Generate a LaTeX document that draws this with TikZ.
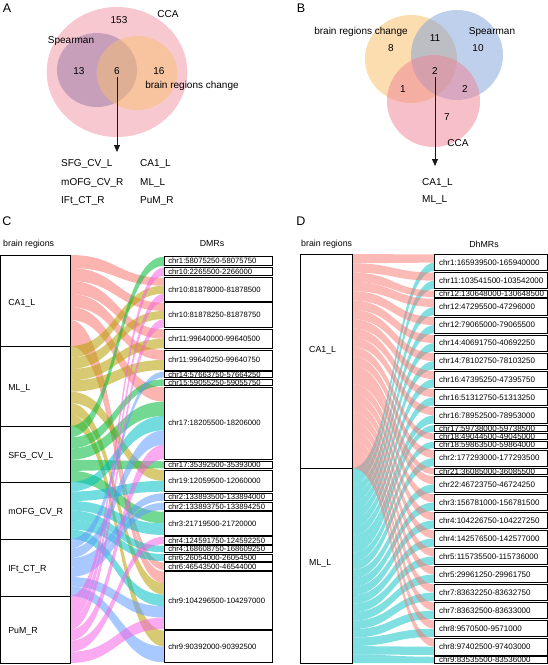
\documentclass[tikz,border=0pt]{standalone}
\usepackage{fontspec}
\setmainfont{Liberation Sans}
\usetikzlibrary{shapes.geometric,fit,arrows.meta}
\definecolor{fpink}{HTML}{F8766D}
\definecolor{folive}{HTML}{B79F00}
\definecolor{fgreen}{HTML}{00BA38}
\definecolor{fcyan}{HTML}{00BFC4}
\definecolor{fblue}{HTML}{619CFF}
\definecolor{fmag}{HTML}{F564E3}
\definecolor{vAcca}{RGB}{241,145,161}
\definecolor{vAsp}{RGB}{152,120,168}
\definecolor{vAbr}{RGB}{248,192,112}
\definecolor{vBor}{RGB}{247,187,97}
\definecolor{vBbl}{RGB}{127,161,217}
\definecolor{vBpk}{RGB}{240,130,148}
\newcommand\ribbon[7]{\fill[#1] (#2,#3) .. controls ({(#2+#5)/2},#3) and ({(#2+#5)/2},#6) .. (#5,#6) -- (#5,#7) .. controls ({(#2+#5)/2},#7) and ({(#2+#5)/2},#4) .. (#2,#4) -- cycle;}
\newcommand\cflow[5]{\ribbon{#1}{70}{#2}{#3}{164}{#4}{#5}}
\newcommand\crbox[4]{\node[boxline, fit={(164,#2) (272,#3)}] (#1) {};\node[crt] at ([xshift=4.5pt]#1.west) {#4};}
\newcommand\drbox[4]{\node[boxline, fit={(434.7,#2) (547,#3)}] (#1) {};\node[drt] at ([xshift=4.5pt]#1.west) {#4};}
\begin{document}
\begin{tikzpicture}[x=1pt,y=-1pt,
  vt/.style={font=\fontsize{10}{12}\selectfont, inner sep=0},
  plet/.style={font=\fontsize{12.5}{14}\selectfont, inner sep=0},
  hd/.style={font=\fontsize{8.8}{10}\selectfont, inner sep=0},
  ll/.style={font=\fontsize{8.8}{10}\selectfont, inner sep=0, anchor=west},
  crt/.style={font=\fontsize{7.7}{9}\selectfont, inner sep=0, anchor=west},
  drt/.style={font=\fontsize{8}{9}\selectfont, inner sep=0, anchor=west},
  boxline/.style={draw=black, line width=0.8pt, inner sep=0, rectangle},
  ven/.style={ellipse, inner sep=0, fill opacity=0.5},
  arr/.style={-{Triangle[length=7pt,width=6pt]}, line width=0.8pt, draw=black!90},
  rpink/.style={fill=fpink, fill opacity=0.55},
  rolive/.style={fill=folive, fill opacity=0.55},
  rgreen/.style={fill=fgreen, fill opacity=0.55},
  rcyan/.style={fill=fcyan, fill opacity=0.55},
  rblue/.style={fill=fblue, fill opacity=0.55},
  rmag/.style={fill=fmag, fill opacity=0.55},
  dpink/.style={fill=fpink, fill opacity=0.5},
  dcyan/.style={fill=fcyan, fill opacity=0.5}]
\useasboundingbox (0,0) rectangle (548,665);

% ---------------- Panel A ----------------
\node[plet] (la) at (7,8) {A};
\node[ven, fill=vAcca, minimum width=140.6pt, minimum height=130pt] (cca) at (117,72) {};
\node[ven, fill=vAsp, minimum width=80pt, minimum height=74pt] (sp) at (97,70) {};
\node[ven, fill=vAbr, minimum width=80.6pt, minimum height=74pt] (br) at (137,73) {};
\node[vt] (a153) at (119,20) {153};
\node[vt] (acca) at (168,14) {CCA};
\node[vt] (asp) at (71,41) {Spearman};
\node[vt] (a13) at (79,71) {13};
\node[vt] (a6) at (117,71) {6};
\node[vt] (a16) at (159,71) {16};
\node[vt] (abr) at (192,86) {brain regions change};
\coordinate (arrA) at (117,152);
\draw[arr] ([yshift=-2pt]a6.south) -- (arrA);
\node[vt, anchor=west] (a1) at (61,164) {SFG\_CV\_L};
\node[vt, anchor=west] (a2) at (61,183) {mOFG\_CV\_R};
\node[vt, anchor=west] (a3) at (61,201) {IFt\_CT\_R};
\node[vt, anchor=west] (a4) at (140,164) {CA1\_L};
\node[vt, anchor=west] (a5) at (140,183) {ML\_L};
\node[vt, anchor=west] (a7) at (140,201) {PuM\_R};

% ---------------- Panel B ----------------
\node[plet] (lb) at (301,8) {B};
\node[ven, fill=vBor, minimum width=92pt, minimum height=88pt] (bor) at (411,59) {};
\node[ven, fill=vBbl, minimum width=92pt, minimum height=90pt] (bbl) at (457,55) {};
\node[ven, fill=vBpk, minimum width=93pt, minimum height=92pt] (bpk) at (433.5,101) {};
\node[vt] (bbr) at (361,32) {brain regions change};
\node[vt] (bsp) at (492,32) {Spearman};
\node[vt] (b11) at (435,38) {11};
\node[vt] (b8) at (391,48) {8};
\node[vt] (b10) at (478,48) {10};
\node[vt] (b2) at (435,71) {2};
\node[vt] (b1) at (403,89) {1};
\node[vt] (b2b) at (465,89) {2};
\node[vt] (b7) at (447,117) {7};
\node[vt] (bcca) at (458,143) {CCA};
\coordinate (arrB) at (435,166);
\draw[arr] ([yshift=-2pt]b2.south) -- (arrB);
\node[vt, anchor=west] (bl1) at (422,183) {CA1\_L};
\node[vt, anchor=west] (bl2) at (422,200) {ML\_L};

% ---------------- Panel C ----------------
\node[plet] (lc) at (7,221) {C};
\node[hd, anchor=west] (chl) at (3,244) {brain regions};
\node[hd] (chr) at (212,244) {DMRs};
% flows CA1_L
\cflow{rpink}{255}{268}{277.7}{285.7}
\cflow{rpink}{268}{281}{302.7}{310.9}
\cflow{rpink}{281}{294}{329.3}{338.8}
\cflow{rpink}{294}{307}{350}{360}
\cflow{rpink}{307}{320}{387.3}{401.6}
\cflow{rpink}{320}{333}{562.7}{570}
\cflow{rpink}{333}{346}{571.7}{583.16}
% ML_L
\cflow{rolive}{346}{357.4}{285.7}{293.7}
\cflow{rolive}{357.4}{368.9}{310.9}{319.1}
\cflow{rolive}{368.9}{380.3}{338.8}{348.3}
\cflow{rolive}{380.3}{391.7}{360}{370}
\cflow{rolive}{391.7}{403.1}{470}{480.85}
\cflow{rolive}{403.1}{414.6}{583.16}{594.62}
\cflow{rolive}{414.6}{426}{630.7}{646.5}
% SFG_CV_L
\cflow{rgreen}{426}{437.2}{256.7}{265.7}
\cflow{rgreen}{437.2}{448.4}{379.3}{385.7}
\cflow{rgreen}{448.4}{459.6}{401.6}{416}
\cflow{rgreen}{459.6}{470.8}{461.3}{468.3}
\cflow{rgreen}{470.8}{482}{511.7}{523.35}
% mOFG_CV_R
\cflow{rcyan}{482}{491.5}{416}{430.3}
\cflow{rcyan}{491.5}{501}{480.85}{491.7}
\cflow{rcyan}{501}{510.5}{523.35}{535}
\cflow{rcyan}{510.5}{520}{545.7}{552.3}
\cflow{rcyan}{520}{529.5}{554}{561}
\cflow{rcyan}{529.5}{539}{594.62}{606.08}
% IFt_CT_R
\cflow{rblue}{539}{548.5}{371.7}{377.3}
\cflow{rblue}{548.5}{558}{430.3}{444.7}
\cflow{rblue}{558}{567.5}{493.3}{500.7}
\cflow{rblue}{567.5}{577}{502.7}{510}
\cflow{rblue}{577}{586.5}{606.08}{617.54}
\cflow{rblue}{586.5}{596}{646.5}{662.3}
% PuM_R
\cflow{rmag}{596}{607.2}{267.3}{275.7}
\cflow{rmag}{607.2}{618.3}{293.7}{301.7}
\cflow{rmag}{618.3}{629.5}{319.1}{327.3}
\cflow{rmag}{629.5}{640.7}{444.7}{459}
\cflow{rmag}{640.7}{651.8}{536.7}{544}
\cflow{rmag}{651.8}{663}{617.54}{629}
% left boxes C
\node[boxline, fit={(0.5,255) (70,346)}] (cl1) {};
\node[boxline, fit={(0.5,346) (70,426)}] (cl2) {};
\node[boxline, fit={(0.5,426) (70,482)}] (cl3) {};
\node[boxline, fit={(0.5,482) (70,539)}] (cl4) {};
\node[boxline, fit={(0.5,539) (70,596)}] (cl5) {};
\node[boxline, fit={(0.5,596) (70,663)}] (cl6) {};
\node[ll] at ([xshift=8pt,yshift=-3pt]cl1.west) {CA1\_L};
\node[ll] at ([xshift=8pt,yshift=-2pt]cl2.west) {ML\_L};
\node[ll] at ([xshift=8pt,yshift=-2pt]cl3.west) {SFG\_CV\_L};
\node[ll] at ([xshift=8pt,yshift=-2pt]cl4.west) {mOFG\_CV\_R};
\node[ll] at ([xshift=8pt,yshift=-2pt]cl5.west) {IFt\_CT\_R};
\node[ll] at ([xshift=8pt,yshift=-2pt]cl6.west) {PuM\_R};
% right boxes C
\crbox{c1}{256.7}{265.7}{chr1:58075250-58075750}
\crbox{c2}{267.3}{275.7}{chr10:2265500-2266000}
\crbox{c3}{277.7}{301.7}{chr10:81878000-81878500}
\crbox{c4}{302.7}{327.3}{chr10:81878250-81878750}
\crbox{c5}{329.3}{348.3}{chr11:99640000-99640500}
\crbox{c6}{350}{370}{chr11:99640250-99640750}
\crbox{c7}{371.7}{377.3}{chr14:57663750-57664250}
\crbox{c8}{379.3}{385.7}{chr15:59055250-59055750}
\crbox{c9}{387.3}{459}{chr17:18205500-18206000}
\crbox{c10}{461.3}{468.3}{chr17:35392500-35393000}
\crbox{c11}{470}{491.7}{chr19:12059500-12060000}
\crbox{c12}{493.3}{500.7}{chr2:133893500-133894000}
\crbox{c13}{502.7}{510}{chr2:133893750-133894250}
\crbox{c14}{511.7}{535}{chr3:21719500-21720000}
\crbox{c15}{536.7}{544}{chr4:124591750-124592250}
\crbox{c16}{545.7}{552.3}{chr4:168608750-168609250}
\crbox{c17}{554}{561}{chr6:26054000-26054500}
\crbox{c18}{562.7}{570}{chr6:46543500-46544000}
\crbox{c19}{571.7}{629}{chr9:104296500-104297000}
\crbox{c20}{630.7}{662.3}{chr9:90392000-90392500}

% ---------------- Panel D ----------------
\node[plet] (ld) at (301,221) {D};
\node[hd, anchor=west] (dhl) at (301,244) {brain regions};
\node[hd] (dhr) at (484,244) {DhMRs};
\foreach \dT/\dB/\dP/\dC in {254.5/270.7/0/0, 272.55/288.75/1/1, 290.6/297.0/2/-1, 298.85/315.05/3/2, 316.9/333.1/4/3, 334.95/351.15/5/4, 353.0/369.2/6/5, 371.05/387.25/7/6, 389.1/405.3/8/7, 407.15/423.35/9/8, 425.2/431.6/-1/9, 433.45/439.85/10/-1, 441.7/448.1/-1/10, 449.95/466.15/11/11, 468.0/474.4/12/-1, 476.25/492.45/13/12, 494.3/510.5/14/13, 512.35/528.55/15/14, 530.4/546.6/16/15, 548.45/564.65/17/16, 566.5/582.7/18/17, 584.55/600.75/19/18, 602.6/618.8/20/19, 620.65/636.85/21/20, 638.7/654.9/22/21, 656.75/663.15/-1/22}
{
 \pgfmathsetmacro\dM{(\dT+\dB)/2}
 \ifnum\dP<0\relax\else
   \pgfmathsetmacro\dPe{ifthenelse(\dC<0,\dB,\dM)}
   \pgfmathsetmacro\dLa{254+\dP*214/23}
   \pgfmathsetmacro\dLb{254+(\dP+1)*214/23}
   \ribbon{dpink}{352.3}{\dLa}{\dLb}{434.7}{\dT}{\dPe}
 \fi
 \ifnum\dC<0\relax\else
   \pgfmathsetmacro\dCs{ifthenelse(\dP<0,\dT,\dM)}
   \pgfmathsetmacro\dCa{468+\dC*195/23}
   \pgfmathsetmacro\dCb{468+(\dC+1)*195/23}
   \ribbon{dcyan}{352.3}{\dCa}{\dCb}{434.7}{\dCs}{\dB}
 \fi
}
\node[boxline, fit={(300.7,254) (352.3,468)}] (dl1) {};
\node[boxline, fit={(300.7,468) (352.3,663)}] (dl2) {};
\node[ll] at (309,350) {CA1\_L};
\node[ll] at (309,563) {ML\_L};
\drbox{d1}{254.5}{270.7}{chr1:165939500-165940000}
\drbox{d2}{272.55}{288.75}{chr11:103541500-103542000}
\drbox{d3}{290.6}{297.0}{chr12:130648000-130648500}
\drbox{d4}{298.85}{315.05}{chr12:47295500-47296000}
\drbox{d5}{316.9}{333.1}{chr12:79065000-79065500}
\drbox{d6}{334.95}{351.15}{chr14:40691750-40692250}
\drbox{d7}{353.0}{369.2}{chr14:78102750-78103250}
\drbox{d8}{371.05}{387.25}{chr16:47395250-47395750}
\drbox{d9}{389.1}{405.3}{chr16:51312750-51313250}
\drbox{d10}{407.15}{423.35}{chr16:78952500-78953000}
\drbox{d11}{425.2}{431.6}{chr17:59738000-59738500}
\drbox{d12}{433.45}{439.85}{chr18:49044500-49045000}
\drbox{d13}{441.7}{448.1}{chr18:59863500-59864000}
\drbox{d14}{449.95}{466.15}{chr2:177293000-177293500}
\drbox{d15}{468.0}{474.4}{chr21:36085000-36085500}
\drbox{d16}{476.25}{492.45}{chr22:46723750-46724250}
\drbox{d17}{494.3}{510.5}{chr3:156781000-156781500}
\drbox{d18}{512.35}{528.55}{chr4:104226750-104227250}
\drbox{d19}{530.4}{546.6}{chr4:142576500-142577000}
\drbox{d20}{548.45}{564.65}{chr5:115735500-115736000}
\drbox{d21}{566.5}{582.7}{chr5:29961250-29961750}
\drbox{d22}{584.55}{600.75}{chr7:83632250-83632750}
\drbox{d23}{602.6}{618.8}{chr7:83632500-83633000}
\drbox{d24}{620.65}{636.85}{chr8:9570500-9571000}
\drbox{d25}{638.7}{654.9}{chr8:97402500-97403000}
\drbox{d26}{656.75}{663.15}{chr9:83535500-83536000}
\end{tikzpicture}
\end{document}
